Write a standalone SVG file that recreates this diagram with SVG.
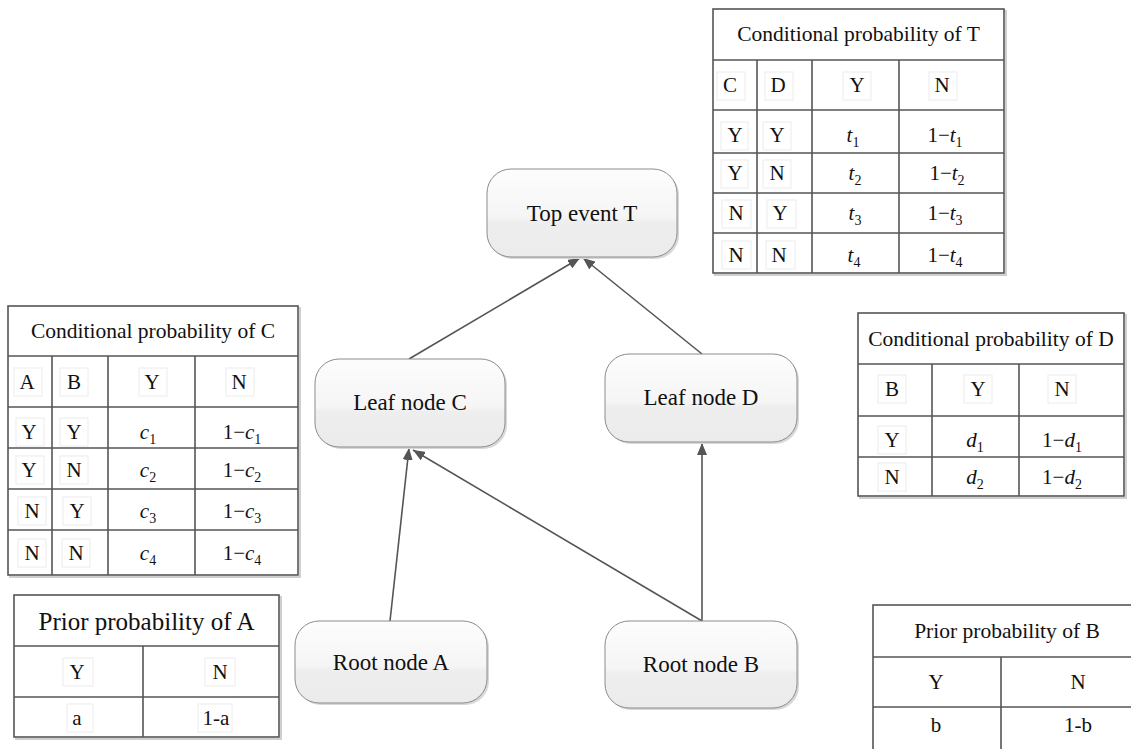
<svg xmlns="http://www.w3.org/2000/svg" width="1131" height="749" viewBox="0 0 1131 749">
<style>
text{font-family:"Liberation Serif","Times New Roman",serif;fill:#111}
.node{fill:url(#ng);stroke:#8c8c8c;stroke-width:1}
.nshadow{fill:#d8d8d8}
.nt{font-size:23px;text-anchor:middle}
.tb{fill:#fff;stroke:#555;stroke-width:1.6}
.tsh{fill:none;stroke:#cfcfcf;stroke-width:2}
.ln{stroke:#555;stroke-width:1.6}
.h{font-size:21.5px;text-anchor:middle}
.c{font-size:21px;text-anchor:middle}
.gb{fill:none;stroke:#ececec;stroke-width:1}
.i{font-style:italic}
.sub{font-size:14px}
.conn{stroke:#555;stroke-width:1.6;fill:none;marker-end:url(#ah)}
</style>
<defs>
<linearGradient id="ng" x1="0" y1="0" x2="0" y2="1">
<stop offset="0" stop-color="#fdfdfd"/>
<stop offset="0.55" stop-color="#f5f5f5"/>
<stop offset="0.6" stop-color="#eeeeee"/>
<stop offset="1" stop-color="#ebebeb"/>
</linearGradient>
<marker id="ah" markerUnits="userSpaceOnUse" markerWidth="12" markerHeight="10" refX="12" refY="5" orient="auto">
<path d="M0,0 L12,5 L0,10 z" fill="#555"/>
</marker>
</defs>
<rect width="1131" height="749" fill="#fff"/>

<g id="connectors">
<line class="conn" x1="409" y1="359" x2="580" y2="258"/>
<line class="conn" x1="702" y1="354" x2="583" y2="258"/>
<line class="conn" x1="390" y1="621" x2="409" y2="448"/>
<line class="conn" x1="702" y1="621" x2="413" y2="450"/>
<line class="conn" x1="702" y1="621" x2="702" y2="443"/>
</g>

<g id="node-T">
<rect class="nshadow" x="489" y="171" width="190" height="88" rx="24"/>
<rect class="node" x="487" y="169" width="190" height="88" rx="24"/>
<text class="nt" x="582" y="221">Top event T</text>
</g>
<g id="node-C">
<rect class="nshadow" x="317" y="361" width="190" height="88" rx="24"/>
<rect class="node" x="315" y="359" width="190" height="88" rx="24"/>
<text class="nt" x="410" y="410">Leaf node C</text>
</g>
<g id="node-D">
<rect class="nshadow" x="607" y="356" width="192" height="88" rx="24"/>
<rect class="node" x="605" y="354" width="192" height="88" rx="24"/>
<text class="nt" x="701" y="405">Leaf node D</text>
</g>
<g id="node-A">
<rect class="nshadow" x="297" y="623" width="192" height="82" rx="24"/>
<rect class="node" x="295" y="621" width="192" height="82" rx="24"/>
<text class="nt" x="391" y="670">Root node A</text>
</g>
<g id="node-B">
<rect class="nshadow" x="607" y="623" width="192" height="87" rx="24"/>
<rect class="node" x="605" y="621" width="192" height="87" rx="24"/>
<text class="nt" x="701" y="672">Root node B</text>
</g>

<g id="table-T">
<rect class="tsh" x="715" y="11" width="291" height="264"/>
<rect class="tb" x="713" y="9" width="291" height="264"/>
<line class="ln" x1="713" y1="60" x2="1004" y2="60"/>
<line class="ln" x1="713" y1="110" x2="1004" y2="110"/>
<line class="ln" x1="713" y1="153" x2="1004" y2="153"/>
<line class="ln" x1="713" y1="193" x2="1004" y2="193"/>
<line class="ln" x1="713" y1="233" x2="1004" y2="233"/>
<line class="ln" x1="757" y1="60" x2="757" y2="273"/>
<line class="ln" x1="812" y1="60" x2="812" y2="273"/>
<line class="ln" x1="899" y1="60" x2="899" y2="273"/>
<text class="h" x="858.5" y="41">Conditional probability of T</text>
<rect class="gb" x="717" y="72" width="28" height="28"/><rect class="gb" x="765" y="72" width="28" height="28"/><rect class="gb" x="843" y="72" width="28" height="28"/><rect class="gb" x="929" y="72" width="28" height="28"/>
<rect class="gb" x="721" y="122" width="27" height="28"/><rect class="gb" x="763" y="122" width="28" height="28"/>
<rect class="gb" x="721" y="160" width="27" height="28"/><rect class="gb" x="763" y="160" width="28" height="28"/>
<rect class="gb" x="722" y="200" width="29" height="28"/><rect class="gb" x="767" y="200" width="29" height="28"/>
<rect class="gb" x="722" y="241" width="29" height="28"/><rect class="gb" x="766" y="241" width="29" height="28"/>
<text class="c" x="730" y="92">C</text><text class="c" x="778" y="92">D</text><text class="c" x="857" y="92">Y</text><text class="c" x="942" y="92">N</text>
<text class="c" x="735" y="142">Y</text><text class="c" x="777" y="142">Y</text>
<text class="c" x="853" y="142"><tspan class="i">t</tspan><tspan class="sub" dy="5">1</tspan></text>
<text class="c" x="945" y="142">1−<tspan class="i">t</tspan><tspan class="sub" dy="5">1</tspan></text>
<text class="c" x="735" y="180">Y</text><text class="c" x="777" y="180">N</text>
<text class="c" x="855" y="180"><tspan class="i">t</tspan><tspan class="sub" dy="5">2</tspan></text>
<text class="c" x="947" y="180">1−<tspan class="i">t</tspan><tspan class="sub" dy="5">2</tspan></text>
<text class="c" x="736" y="220">N</text><text class="c" x="780" y="220">Y</text>
<text class="c" x="855" y="220"><tspan class="i">t</tspan><tspan class="sub" dy="5">3</tspan></text>
<text class="c" x="945" y="220">1−<tspan class="i">t</tspan><tspan class="sub" dy="5">3</tspan></text>
<text class="c" x="736" y="262">N</text><text class="c" x="779" y="262">N</text>
<text class="c" x="854" y="262"><tspan class="i">t</tspan><tspan class="sub" dy="5">4</tspan></text>
<text class="c" x="945" y="262">1−<tspan class="i">t</tspan><tspan class="sub" dy="5">4</tspan></text>
</g>

<g id="table-C">
<rect class="tsh" x="10" y="308" width="290" height="269"/>
<rect class="tb" x="8" y="306" width="290" height="269"/>
<line class="ln" x1="8" y1="356" x2="298" y2="356"/>
<line class="ln" x1="8" y1="407" x2="298" y2="407"/>
<line class="ln" x1="8" y1="448" x2="298" y2="448"/>
<line class="ln" x1="8" y1="489" x2="298" y2="489"/>
<line class="ln" x1="8" y1="530" x2="298" y2="530"/>
<line class="ln" x1="52" y1="356" x2="52" y2="575"/>
<line class="ln" x1="108" y1="356" x2="108" y2="575"/>
<line class="ln" x1="195" y1="356" x2="195" y2="575"/>
<text class="h" x="153" y="338">Conditional probability of C</text>
<rect class="gb" x="14" y="368" width="28" height="28"/><rect class="gb" x="60" y="368" width="28" height="28"/><rect class="gb" x="139" y="368" width="28" height="28"/><rect class="gb" x="226" y="368" width="28" height="28"/>
<rect class="gb" x="16" y="418" width="28" height="28"/><rect class="gb" x="60" y="418" width="28" height="28"/>
<rect class="gb" x="16" y="456" width="28" height="28"/><rect class="gb" x="60" y="456" width="28" height="28"/>
<rect class="gb" x="18" y="497" width="28" height="28"/><rect class="gb" x="63" y="497" width="28" height="28"/>
<rect class="gb" x="18" y="539" width="28" height="28"/><rect class="gb" x="62" y="539" width="28" height="28"/>
<text class="c" x="27" y="389">A</text><text class="c" x="74" y="389">B</text><text class="c" x="152" y="389">Y</text><text class="c" x="239" y="389">N</text>
<text class="c" x="29" y="439">Y</text><text class="c" x="74" y="439">Y</text>
<text class="c" x="148" y="439"><tspan class="i">c</tspan><tspan class="sub" dy="5">1</tspan></text>
<text class="c" x="242" y="439">1−<tspan class="i">c</tspan><tspan class="sub" dy="5">1</tspan></text>
<text class="c" x="29" y="477">Y</text><text class="c" x="74" y="477">N</text>
<text class="c" x="148" y="477"><tspan class="i">c</tspan><tspan class="sub" dy="5">2</tspan></text>
<text class="c" x="242" y="477">1−<tspan class="i">c</tspan><tspan class="sub" dy="5">2</tspan></text>
<text class="c" x="32" y="518">N</text><text class="c" x="77" y="518">Y</text>
<text class="c" x="148" y="518"><tspan class="i">c</tspan><tspan class="sub" dy="5">3</tspan></text>
<text class="c" x="242" y="518">1−<tspan class="i">c</tspan><tspan class="sub" dy="5">3</tspan></text>
<text class="c" x="32" y="560">N</text><text class="c" x="76" y="560">N</text>
<text class="c" x="148" y="560"><tspan class="i">c</tspan><tspan class="sub" dy="5">4</tspan></text>
<text class="c" x="242" y="560">1−<tspan class="i">c</tspan><tspan class="sub" dy="5">4</tspan></text>
</g>

<g id="table-D">
<rect class="tsh" x="860" y="315" width="266" height="183"/>
<rect class="tb" x="858" y="313" width="266" height="183"/>
<line class="ln" x1="858" y1="364" x2="1124" y2="364"/>
<line class="ln" x1="858" y1="416" x2="1124" y2="416"/>
<line class="ln" x1="858" y1="457" x2="1124" y2="457"/>
<line class="ln" x1="932" y1="364" x2="932" y2="496"/>
<line class="ln" x1="1019" y1="364" x2="1019" y2="496"/>
<text class="h" x="991" y="346">Conditional probability of D</text>
<rect class="gb" x="878" y="375" width="28" height="28"/><rect class="gb" x="964" y="375" width="28" height="28"/><rect class="gb" x="1048" y="375" width="28" height="28"/>
<rect class="gb" x="878" y="426" width="28" height="28"/><rect class="gb" x="878" y="463" width="28" height="28"/>
<text class="c" x="892" y="396">B</text><text class="c" x="978" y="396">Y</text><text class="c" x="1062" y="396">N</text>
<text class="c" x="892" y="447">Y</text>
<text class="c" x="975" y="447"><tspan class="i">d</tspan><tspan class="sub" dy="5">1</tspan></text>
<text class="c" x="1062" y="447">1−<tspan class="i">d</tspan><tspan class="sub" dy="5">1</tspan></text>
<text class="c" x="892" y="484">N</text>
<text class="c" x="975" y="484"><tspan class="i">d</tspan><tspan class="sub" dy="5">2</tspan></text>
<text class="c" x="1062" y="484">1−<tspan class="i">d</tspan><tspan class="sub" dy="5">2</tspan></text>
</g>

<g id="table-prior-A">
<rect class="tsh" x="16" y="597" width="265" height="142"/>
<rect class="tb" x="14" y="595" width="265" height="142"/>
<line class="ln" x1="14" y1="646" x2="279" y2="646"/>
<line class="ln" x1="14" y1="697" x2="279" y2="697"/>
<line class="ln" x1="143" y1="646" x2="143" y2="737"/>
<text class="h" x="146.5" y="630" style="font-size:25px">Prior probability of A</text>
<rect class="gb" x="63" y="658" width="30" height="28"/><rect class="gb" x="205" y="658" width="30" height="28"/>
<rect class="gb" x="67" y="704" width="26" height="28"/><rect class="gb" x="198" y="704" width="34" height="28"/>
<text class="c" x="77" y="679">Y</text><text class="c" x="220" y="679">N</text>
<text class="c" x="77" y="725">a</text><text class="c" x="216" y="725">1-a</text>
</g>

<g id="table-prior-B">
<rect class="tb" x="873" y="605" width="280" height="150"/>
<line class="ln" x1="873" y1="657" x2="1153" y2="657"/>
<line class="ln" x1="873" y1="707" x2="1153" y2="707"/>
<line class="ln" x1="1001" y1="657" x2="1001" y2="755"/>
<text class="h" x="1007" y="638">Prior probability of B</text>
<text class="c" x="936" y="689">Y</text><text class="c" x="1078" y="689">N</text>
<text class="c" x="936" y="732">b</text><text class="c" x="1078" y="732">1-b</text>
</g>
</svg>
